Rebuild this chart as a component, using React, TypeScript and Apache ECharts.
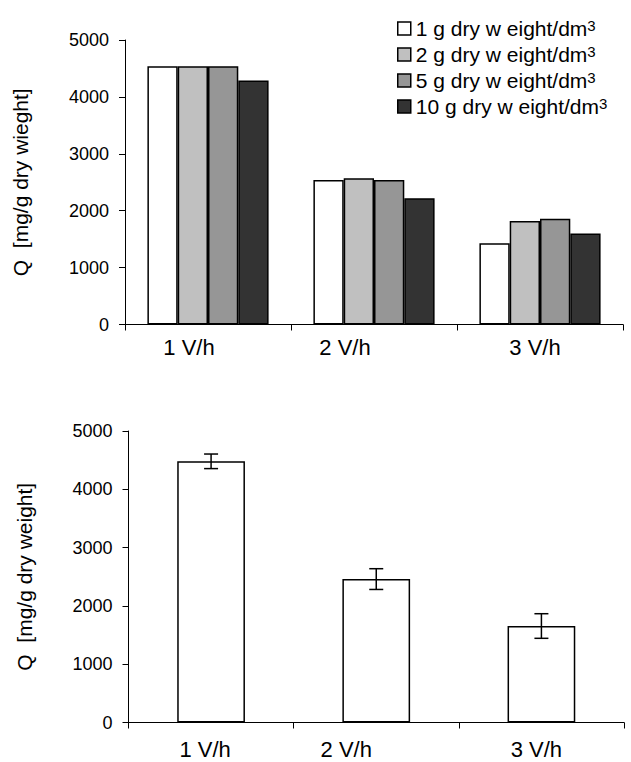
import React, { useEffect, useRef } from "react";
import * as echarts from "echarts";

const categories = ["1 V/h", "2 V/h", "3 V/h"];
const legendNames = [
  "1 g dry w eight/dm",
  "2 g dry w eight/dm",
  "5 g dry w eight/dm",
  "10 g dry w eight/dm",
];
const conc1 = [4540, 2540, 1430];
const conc2 = [4540, 2570, 1820];
const conc5 = [4540, 2540, 1860];
const conc10 = [4290, 2220, 1600];
const meanQ = [4480, 2460, 1655];
const errQ = [125, 178, 211];
const barColors = ["#ffffff", "#c0c0c0", "#969696", "#333333"];

const FONT = "'Liberation Sans', Arial, sans-serif";

export default function App() {
  const ref = useRef<HTMLDivElement>(null);
  useEffect(() => {
    if (!ref.current) return;
    const chart = echarts.init(ref.current, undefined, { renderer: "svg" });
    const topPad = [38, 58, 10];
    const botPad = [12, 60, 10];
    const xAxisCommon = (pads: number[], margin: number) => ({
      type: "category",
      data: categories,
      axisLine: { lineStyle: { color: "#000", width: 1 } },
      axisTick: { show: true, length: 6, alignWithLabel: false, lineStyle: { color: "#000" } },
      axisLabel: {
        margin,
        color: "#000",
        fontSize: 22,
        fontFamily: FONT,
        formatter: (v: string, i: number) => `{t${i}|${v}}`,
        rich: {
          t0: { fontSize: 22, fontFamily: FONT, color: "#000", padding: [0, pads[0], 0, 0] },
          t1: { fontSize: 22, fontFamily: FONT, color: "#000", padding: [0, pads[1], 0, 0] },
          t2: { fontSize: 22, fontFamily: FONT, color: "#000", padding: [0, pads[2], 0, 0] },
        },
      },
      splitLine: { show: false },
    });
    const yAxisCommon = (name: string) => ({
      type: "value",
      min: 0,
      max: 5000,
      interval: 1000,
      name,
      nameLocation: "middle",
      nameGap: 94,
      nameTextStyle: { fontSize: 21, fontFamily: FONT, color: "#000" },
      axisLine: { show: true, lineStyle: { color: "#000", width: 1 } },
      axisTick: { show: true, length: 6, lineStyle: { color: "#000" } },
      axisLabel: {
        margin: 16,
        fontSize: 18,
        fontFamily: FONT,
        color: "#000",
        formatter: (v: number) => String(v),
      },
      splitLine: { show: false },
    });
    const topSeries = [conc1, conc2, conc5, conc10].map((d, i) => ({
      type: "bar",
      name: legendNames[i],
      xAxisIndex: 0,
      yAxisIndex: 0,
      data: d,
      barGap: "0%",
      barCategoryGap: "27%",
      itemStyle: { color: barColors[i], borderColor: "#000", borderWidth: 1.5 },
    }));
    const errData = meanQ.map((m, i) => [i, m - errQ[i], m + errQ[i]]);
    chart.setOption({
      animation: false,
      backgroundColor: "#fff",
      legend: {
        orient: "vertical",
        left: 392,
        top: 13,
        itemWidth: 13,
        itemHeight: 13,
        itemGap: 5,
        icon: "rect",
        data: legendNames,
        formatter: (n: string) => `${n}{sup|3}`,
        textStyle: {
          fontSize: 21,
          fontFamily: FONT,
          color: "#000",
          lineHeight: 21,
          rich: {
            sup: { fontSize: 15, fontFamily: FONT, color: "#000", verticalAlign: "top", lineHeight: 12 },
          },
        },
        itemStyle: { borderColor: "#000", borderWidth: 1.5 },
      },
      grid: [
        { left: 125, right: 8, top: 40, bottom: 437.5, containLabel: false },
        { left: 128.5, right: 7, top: 431, bottom: 39.5, containLabel: false },
      ],
      xAxis: [
        { ...xAxisCommon(topPad, 12), gridIndex: 0 },
        { ...xAxisCommon(botPad, 16), gridIndex: 1 },
      ],
      yAxis: [
        { ...yAxisCommon("Q  [mg/g dry wieght]"), gridIndex: 0 },
        { ...yAxisCommon("Q  [mg/g dry weight]"), gridIndex: 1 },
      ],
      series: [
        ...topSeries,
        {
          type: "bar",
          name: "Mean",
          xAxisIndex: 1,
          yAxisIndex: 1,
          data: meanQ,
          barWidth: "41%",
          itemStyle: { color: "#fff", borderColor: "#000", borderWidth: 1.5 },
        },
        {
          type: "custom",
          name: "Error",
          xAxisIndex: 1,
          yAxisIndex: 1,
          data: errData,
          encode: { x: 0, y: [1, 2] },
          z: 10,
          renderItem: (params: any, api: any) => {
            const x = api.value(0);
            const lo = api.coord([x, api.value(1)]);
            const hi = api.coord([x, api.value(2)]);
            const half = 7;
            const style = { stroke: "#000", lineWidth: 1.5 };
            return {
              type: "group",
              children: [
                { type: "line", shape: { x1: lo[0], y1: lo[1], x2: hi[0], y2: hi[1] }, style },
                { type: "line", shape: { x1: hi[0] - half, y1: hi[1], x2: hi[0] + half, y2: hi[1] }, style },
                { type: "line", shape: { x1: lo[0] - half, y1: lo[1], x2: lo[0] + half, y2: lo[1] }, style },
              ],
            };
          },
        },
      ],
    });
    return () => chart.dispose();
  }, []);
  return (
    <div
      ref={ref}
      style={{ position: "absolute", left: 0, top: 0, width: 631, height: 762, background: "#fff" }}
    />
  );
}
